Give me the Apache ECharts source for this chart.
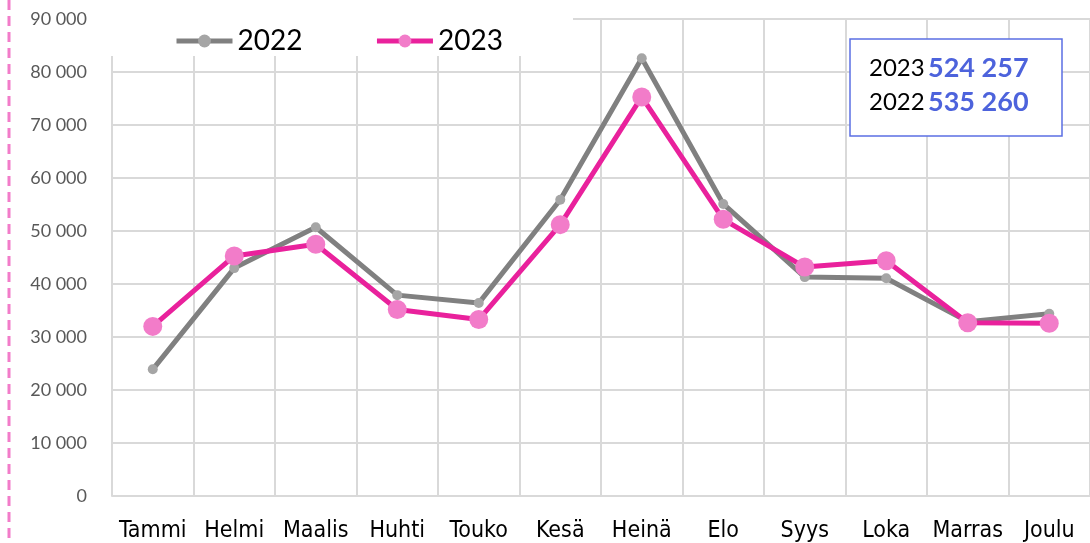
<!DOCTYPE html>
<html lang="fi">
<head>
    <meta http-equiv="Content-Type" content="text/html; charset=utf-8"/>
    <title>Kuukausittain 2022 - 2023</title>
    <script src="https://cdn.jsdelivr.net/npm/echarts@6/dist/echarts.min.js"></script>
</head>
<body style="margin:0;">
<style>
    #chart {
        width: 1090px;
        height: 543px;
    }
</style>
<div id="chart"></div>
<script type="text/javascript">

  var months = ['Tammi', 'Helmi', 'Maalis', 'Huhti', 'Touko', 'Kesä', 'Heinä', 'Elo', 'Syys', 'Loka', 'Marras', 'Joulu'];
  var values2022 = [23900, 43000, 50700, 37900, 36400, 55900, 82600, 55100, 41300, 41100, 32900, 34400];
  var values2023 = [32000, 45300, 47500, 35200, 33300, 51200, 75300, 52200, 43200, 44400, 32700, 32600];
  var totals = [['2023', '524 257'], ['2022', '535 260']];

  function fmt(v) {
    return String(v).replace(/\B(?=(\d{3})+(?!\d))/g, ' ');
  }

  var myChart = echarts.init(document.getElementById('chart'));
  var option = {
    animation: false,
    backgroundColor: '#fff',
    grid: {
      left: 112,
      right: -11,
      top: 19,
      bottom: 47
    },
    legend: {
      left: 169,
      top: 22,
      itemWidth: 56,
      itemHeight: 16,
      itemGap: 72,
      lineStyle: {width: 5},
      textStyle: {
        fontFamily: 'Lato',
        fontSize: 28,
        color: '#000'
      },
      data: ['2022', '2023']
    },
    xAxis: {
      type: 'category',
      data: months,
      axisTick: {show: false},
      axisLine: {lineStyle: {color: '#d9d9d9', width: 2}},
      splitLine: {show: true, interval: 0, lineStyle: {color: '#d9d9d9', width: 2}},
      axisLabel: {
        interval: 0,
        margin: 24,
        fontFamily: 'Liberation Sans Narrow, DejaVu Sans Condensed, sans-serif',
        fontSize: 23,
        color: '#000'
      }
    },
    yAxis: {
      type: 'value',
      min: 0,
      max: 90000,
      interval: 10000,
      axisLine: {show: false},
      axisTick: {show: false},
      splitLine: {lineStyle: {color: '#d9d9d9', width: 2}},
      axisLabel: {
        margin: 25,
        fontFamily: 'Lato',
        fontSize: 18,
        color: '#595959',
        formatter: fmt
      }
    },
    graphic: [
      {
        type: 'rect',
        z: 3,
        shape: {x: 111, y: 0, width: 462, height: 56},
        style: {fill: '#fff'}
      },
      {
        type: 'line',
        z: 5,
        shape: {x1: 9, y1: 0, x2: 9, y2: 543},
        style: {stroke: '#f27cc9', lineWidth: 3, lineDash: [10, 6]}
      },
      {
        type: 'rect',
        z: 5,
        shape: {x: 850, y: 39, width: 212, height: 97},
        style: {fill: '#fff', stroke: '#5b6fe3', lineWidth: 1.5}
      },
      {
        type: 'text',
        z: 6,
        left: 869,
        top: 55,
        style: {
          text: totals.map(function (t) {
            return '{y|' + t[0] + '} {n|' + t[1] + '}';
          }).join('\n'),
          rich: {
            y: {fontFamily: 'Lato', fontSize: 24, fill: '#000', lineHeight: 34},
            n: {fontFamily: 'Lato', fontSize: 27, fontWeight: 'bold', fill: '#4d63dc', lineHeight: 34}
          }
        }
      }
    ],
    series: [
      {
        name: '2022',
        type: 'line',
        data: values2022,
        symbol: 'circle',
        symbolSize: 10,
        lineStyle: {color: '#808080', width: 5},
        itemStyle: {color: '#a5a5a5'}
      },
      {
        name: '2023',
        type: 'line',
        data: values2023,
        symbol: 'circle',
        symbolSize: 19,
        lineStyle: {color: '#e9219c', width: 5},
        itemStyle: {color: '#f27cc9'}
      }
    ]
  };
  myChart.setOption(option);
</script>
</body>
</html>
